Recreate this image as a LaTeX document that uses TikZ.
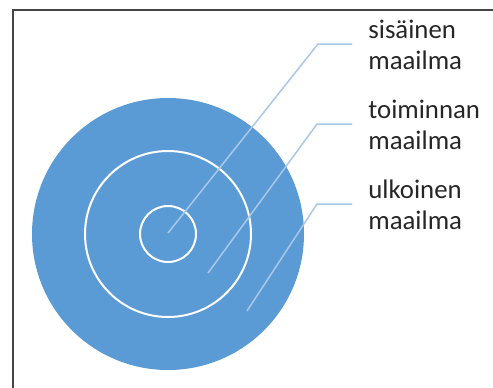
\documentclass[tikz,border=0pt]{standalone}
\usepackage{fontspec}
\setmainfont{Carlito}
\definecolor{ringblue}{HTML}{5B9BD5}
\definecolor{leaderblue}{HTML}{A9C8E8}
\definecolor{framegray}{HTML}{454545}
\definecolor{textgray}{HTML}{262626}
\begin{document}
\begin{tikzpicture}[x=0.5pt,y=-0.5pt,
		leader/.style={leaderblue,line width=0.75pt},
		ring/.style={white,line width=1pt},
		worldlabel/.style={anchor=base west,inner sep=0pt,align=left,text=textgray,
			font=\fontsize{13.4pt}{15.5pt}\selectfont}]
		\useasboundingbox (0,0) rectangle (493,387);
		\draw[framegray,line width=0.8pt] (13,400) -- (13,10) -- (500,10);
		% the circles
		\fill[ringblue] (168,234) circle(136);
		\draw[ring] (168,234) circle(83) (168,234) circle(28);
		\coordinate (inner) at (168,233);
		\coordinate (middle) at (208,273);
		\coordinate (outer) at (247,311);
		% labels (base anchor sits on the second line)
		\node[worldlabel] (innerlab) at (368,69) {sisäinen\\maailma};
		\node[worldlabel] (middlelab) at (368,149) {toiminnan\\maailma};
		\node[worldlabel] (outerlab) at (368,229) {ulkoinen\\maailma};
		\draw[leader] ([shift={(-8pt,12.5pt)}]innerlab.base west) -- ++(-17pt,0) -- (inner);
		\draw[leader] ([shift={(-8pt,12.5pt)}]middlelab.base west) -- ++(-17.5pt,0) -- (middle);
		\draw[leader] ([shift={(-8pt,12.5pt)}]outerlab.base west) -- ++(-17.5pt,0) -- (outer);
	\end{tikzpicture}
\end{document}
